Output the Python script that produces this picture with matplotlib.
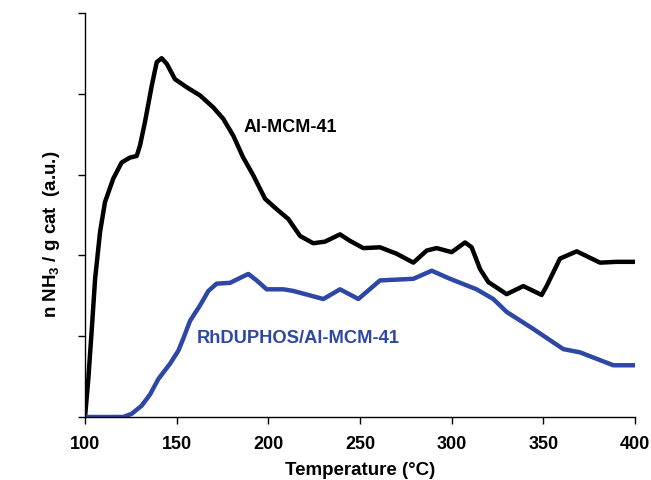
import matplotlib
matplotlib.use('Agg')
import matplotlib.pyplot as plt

plt.rcParams['font.family'] = ['Liberation Sans', 'DejaVu Sans']
plt.rcParams['font.weight'] = 'bold'
plt.rcParams['mathtext.fontset'] = 'custom'
plt.rcParams['mathtext.bf'] = 'Liberation Sans:bold'
plt.rcParams['mathtext.rm'] = 'Liberation Sans:bold'

# Al-MCM-41
t_al = [100, 101.8, 103.7, 105.5, 108.2, 110.9, 115.4, 120.0, 124.5, 128.2, 130.0,
        132.7, 136.4, 139.1, 141.8, 144.6, 149.1, 155.5, 162.7, 170.0, 175.4,
        180.9, 186.3, 191.8, 198.2, 204.6, 210.9, 217.3, 224.5, 230.9, 239.1,
        244.5, 251.8, 260.9, 270.0, 279.1, 286.4, 291.8, 300.0, 307.3, 310.9,
        315.5, 320.0, 330.0, 339.1, 349.1, 351.8, 359.1, 368.2, 380.9, 390.0, 400]
n_al = [0, 0.47, 1.09, 1.71, 2.29, 2.66, 2.95, 3.15, 3.21, 3.23, 3.36,
        3.65, 4.10, 4.39, 4.44, 4.37, 4.18, 4.08, 3.98, 3.83, 3.69,
        3.48, 3.21, 2.99, 2.70, 2.57, 2.45, 2.24, 2.15, 2.17, 2.26,
        2.18, 2.09, 2.10, 2.02, 1.91, 2.06, 2.09, 2.04, 2.16, 2.10,
        1.83, 1.67, 1.52, 1.62, 1.51, 1.62, 1.96, 2.05, 1.91, 1.92, 1.92]

# RhDUPHOS/Al-MCM-41
t_rh = [100, 110, 120.9, 125.5, 130.9, 135.5, 140.0, 146.4, 150.9, 153.6, 157.3,
        162.7, 167.3, 171.8, 179.1, 184.5, 189.1, 193.6, 199.1, 208.2, 213.6,
        230.0, 239.1, 249.1, 260.9, 279.1, 289.1, 299.1, 313.6, 322.7, 330.0,
        344.5, 360.9, 370.0, 388.2, 400]
n_rh = [0, 0, 0.0, 0.04, 0.14, 0.28, 0.47, 0.66, 0.82, 0.97, 1.19,
        1.38, 1.56, 1.65, 1.66, 1.72, 1.77, 1.69, 1.58, 1.58, 1.56,
        1.46, 1.58, 1.46, 1.69, 1.71, 1.81, 1.71, 1.58, 1.46, 1.30,
        1.09, 0.84, 0.80, 0.64, 0.64]

x_ticks = [100, 150, 200, 250, 300, 350, 400]

blue = '#2E47A5'

fig = plt.figure(figsize=(6.51, 4.81), dpi=100)
ax = fig.add_axes([0.1306, 0.131, 0.8448, 0.840])

ax.plot(t_al, n_al, color='black', lw=3.2, solid_joinstyle='round', solid_capstyle='round')
ax.plot(t_rh, n_rh, color=blue, lw=3.2, solid_joinstyle='round', solid_capstyle='round')

ax.text(212, 3.60, 'Al-MCM-41', fontsize=13, fontweight='bold', ha='center', va='center')
ax.text(216.5, 0.98, 'RhDUPHOS/Al-MCM-41', fontsize=13.2, fontweight='bold',
        color=blue, ha='center', va='center')

ax.set_xlim(100, 400)
ax.set_ylim(0, 5)
ax.set_xticks(x_ticks)
ax.set_yticks([0, 1, 2, 3, 4, 5])
ax.set_yticklabels([])
ax.tick_params(direction='out', length=5, width=1, labelsize=13, pad=8)
for s in ['top', 'right']:
    ax.spines[s].set_visible(False)
for s in ['left', 'bottom']:
    ax.spines[s].set_linewidth(1)

ax.set_xlabel('Temperature (°C)', fontsize=13.5, fontweight='bold', labelpad=6.5)
ax.set_ylabel(r'n NH$_\mathbf{3}$ / g cat  (a.u.)', fontsize=13.5, fontweight='bold')
ax.yaxis.set_label_coords(-0.041, 0.455)

fig.savefig('out.png', dpi=100)
